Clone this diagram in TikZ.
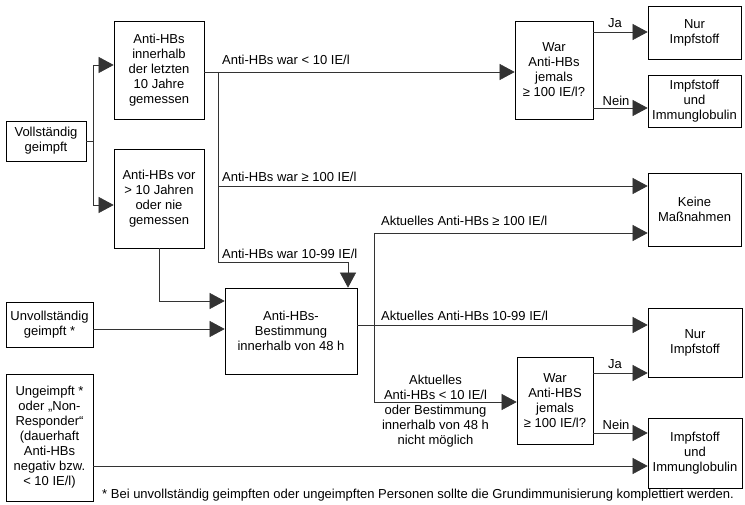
\documentclass[tikz,border=0pt]{standalone}
\usepackage{fontspec}
\setmainfont{Liberation Sans}
\usetikzlibrary{arrows.meta}
\begin{document}
\begin{tikzpicture}[x=1pt,y=-1pt,
  box/.style={draw, line width=0.7pt, inner sep=0pt, align=center, font=\fontsize{13}{15}\selectfont},
  lbl/.style={inner sep=0pt, font=\fontsize{13}{15}\selectfont},
  conn/.style={line width=0.6pt, draw=black!80},
  arr/.style={conn, -{Triangle[length=15pt,width=16pt]}}]
\useasboundingbox (0,0) rectangle (745,505);
% boxes
\node[box, minimum width=80pt, minimum height=40pt] (voll) at (46,141) {Vollständig\\geimpft};
\node[box, minimum width=90pt, minimum height=98pt] (inner) at (159,70) {Anti-HBs\\innerhalb\\der letzten\\10 Jahre\\gemessen};
\node[box, minimum width=90pt, minimum height=99pt] (vor) at (159,198.5) {Anti-HBs vor\\> 10 Jahren\\oder nie\\gemessen};
\node[box, minimum width=78pt, minimum height=98pt] (war1) at (554,70) {War\\Anti-HBs\\jemals\\≥ 100 IE/l?};
\node[box, minimum width=93pt, minimum height=53pt] (nur1) at (694.5,32.5) {Nur\\Impfstoff};
\node[box, minimum width=93pt, minimum height=52pt] (imm1) at (694.5,101) {Impfstoff\\und\\Immunglobulin};
\node[box, minimum width=93pt, minimum height=73pt] (keine) at (694.5,209.5) {Keine\\Maßnahmen};
\node[box, minimum width=132pt, minimum height=86pt] (best) at (291,331) {Anti-HBs-\\Bestimmung\\innerhalb von 48 h};
\node[box, minimum width=87pt, minimum height=45pt] (unv) at (49.5,324.5) {Unvollständig\\geimpft *};
\node[box, minimum width=87pt, minimum height=127pt] (ung) at (49.5,437.5) {Ungeimpft *\\oder „Non-\\Responder“\\(dauerhaft\\Anti-HBs\\negativ bzw.\\< 10 IE/l)};
\node[box, minimum width=94pt, minimum height=69pt] (nur2) at (695,342.5) {Nur\\Impfstoff};
\node[box, minimum width=76pt, minimum height=87pt] (war2) at (555,400.5) {War\\Anti-HBS\\jemals\\≥ 100 IE/l?};
\node[box, minimum width=94pt, minimum height=70pt] (imm2) at (695,453) {Impfstoff\\und\\Immunglobulin};
% labels
\node[lbl, anchor=base west] (l1) at (222,65) {Anti-HBs war < 10 IE/l};
\node[lbl, anchor=base west] (l2) at (222,182) {Anti-HBs war ≥ 100 IE/l};
\node[lbl, anchor=base west] (l3) at (222,259) {Anti-HBs war 10-99 IE/l};
\node[lbl, anchor=base west] (l4) at (381,226) {Aktuelles Anti-HBs ≥ 100 IE/l};
\node[lbl, anchor=base west] (l5) at (381,321) {Aktuelles Anti-HBs 10-99 IE/l};
\node[lbl, align=center] (l6) at (435.5,411) {Aktuelles\\Anti-HBs < 10 IE/l\\oder Bestimmung\\innerhalb von 48 h\\nicht möglich};
\node[lbl, anchor=base] (ja1) at (615,28) {Ja};
\node[lbl, anchor=base] (nein1) at (616,106) {Nein};
\node[lbl, anchor=base] (ja2) at (615,368) {Ja};
\node[lbl, anchor=base] (nein2) at (616,429) {Nein};
\node[inner sep=0pt, anchor=base west, font=\fontsize{13}{15}\selectfont] (fn) at (102,498) {* Bei unvollständig geimpften oder ungeimpften Personen sollte die Grundimmunisierung komplettiert werden.};
% connectors
\coordinate (b1) at (93,141);
\draw[conn] (voll.east) -- (b1);
\draw[arr] (b1) |- ([yshift=5pt]inner.west);
\draw[arr] (b1) |- ([yshift=-6.5pt]vor.west);
\draw[arr] ([yshift=-2pt]inner.east) -- ([yshift=-2pt]war1.west);
\coordinate (c1) at (218,72);
\coordinate (c2) at (218,186);
\coordinate (c3) at (218,262);
\draw[arr] (c1) -- (c3) -| ([xshift=57pt]best.north);
\draw[arr] (c2) -- ([yshift=23.5pt]keine.west);
\draw[arr] (vor.south) |- ([yshift=30pt]best.west);
\draw[arr] ([yshift=-4.5pt]unv.east) -- ([yshift=2pt]best.west);
\draw[arr] ([yshift=6pt]best.east) -- ([yshift=17.5pt]nur2.west);
\coordinate (d1) at (374,233);
\coordinate (d2) at (374,402);
\draw[arr] (d1) -- ([yshift=-23.5pt]keine.west);
\draw[conn] (d1) -- (d2);
\draw[arr] (d2) -- ([yshift=-1.5pt]war2.west);
\draw[arr] ([yshift=38pt]war1.east) -- ([yshift=0.5pt]nur1.west);
\draw[arr] ([yshift=-38pt]war1.east) -- ([yshift=-7pt]imm1.west);
\draw[arr] ([yshift=27.5pt]war2.east) -- ([yshift=-30.5pt]nur2.west);
\draw[arr] ([yshift=-32.5pt]war2.east) -- ([yshift=20pt]imm2.west);
\draw[arr] ([yshift=-28.5pt]ung.east) -- ([yshift=-13pt]imm2.west);
\end{tikzpicture}
\end{document}
